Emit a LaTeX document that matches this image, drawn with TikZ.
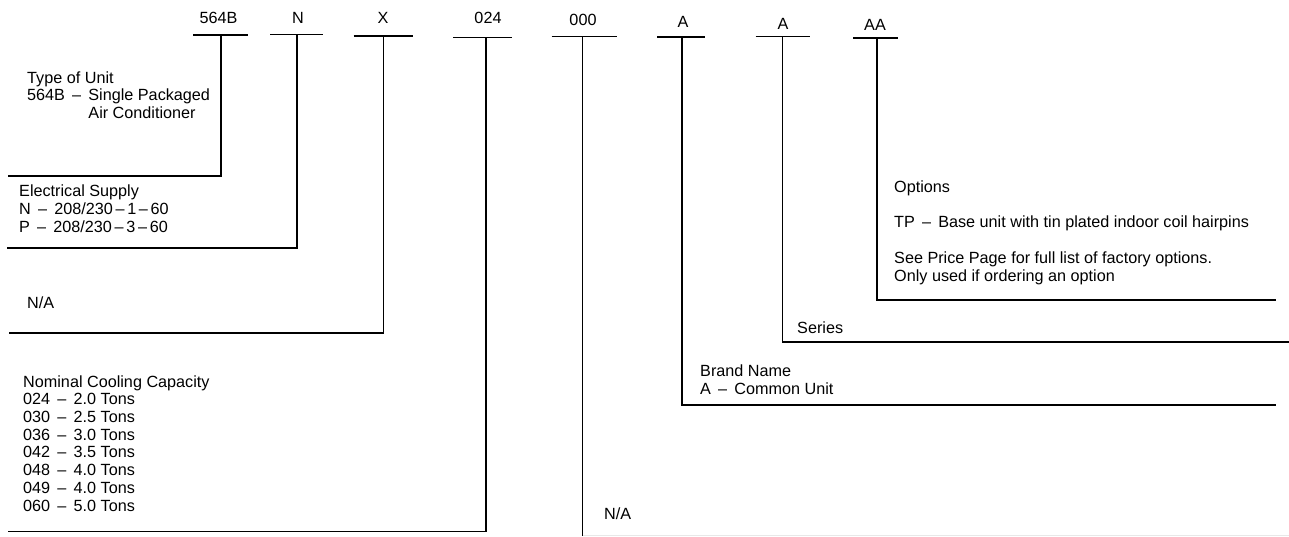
\documentclass[tikz,border=0pt]{standalone}
\usepackage{fontspec}
\setmainfont{Liberation Sans}
\usetikzlibrary{calc}
\definecolor{faintGray}{RGB}{232,232,232}

\begin{document}
\begin{tikzpicture}[
  x=1pt, y=-1pt,
  font=\fontsize{16.2}{17.7}\selectfont,
  code/.style={anchor=base, inner sep=0pt},
  desc/.style={anchor=base west, align=left, inner sep=0pt},
  bar/.style={line width=1.8pt},
  lead/.style={line width=1.8pt},
  faint/.style={draw=faintGray, line width=1pt},
]
\useasboundingbox (0,0) rectangle (1289,536);

% ---------- code letters ----------
\node[code] (kUnit)   at (218.5,23) {564B};
\node[code] (kVolt)   at (298,23)   {N};
\node[code] (kSpare)  at (383,23)   {X};
\node[code] (kCap)    at (488,23)   {024};
\node[code] (kZero)   at (583,25)   {000};
\node[code] (kBrand)  at (683,27)   {A};
\node[code] (kSeries) at (783,29)   {A};
\node[code] (kOpt)    at (875,30)   {AA};

% ---------- bar tops ----------
\coordinate (tUnit)   at (221,35);
\coordinate (tVolt)   at (297,34.5);
\coordinate (tSpare)  at (383.5,36);
\coordinate (tCap)    at (486,37.5);
\coordinate (tZero)   at (582.5,36.5);
\coordinate (tBrand)  at (682,37);
\coordinate (tSeries) at (782.5,36.5);
\coordinate (tOpt)    at (877,38);

\draw[bar] ($(tUnit)+(-28,0)$)   -- ($(tUnit)+(27,0)$);
\draw[bar] ($(tVolt)+(-27,0)$)   -- ($(tVolt)+(26,0)$);
\draw[bar] ($(tSpare)+(-30,0)$)  -- ($(tSpare)+(29,0)$);
\draw[bar] ($(tCap)+(-33,0)$)    -- ($(tCap)+(26,0)$);
\draw[bar] ($(tZero)+(-31,0)$)   -- ($(tZero)+(34,0)$);
\draw[bar] ($(tBrand)+(-25,0)$)  -- ($(tBrand)+(23,0)$);
\draw[bar] ($(tSeries)+(-27,0)$) -- ($(tSeries)+(27,0)$);
\draw[bar] ($(tOpt)+(-24,0)$)    -- ($(tOpt)+(21,0)$);

% ---------- leader ends ----------
\coordinate (eUnit)   at (8,176);
\coordinate (eVolt)   at (7,248);
\coordinate (eSpare)  at (9,333);
\coordinate (eCap)    at (8,531.5);
\coordinate (eZero)   at (1289,535);
\coordinate (eBrand)  at (1276,405);
\coordinate (eSeries) at (1289,342);
\coordinate (eOpt)    at (1276,300);

\draw[lead] (tUnit)   |- (eUnit);
\draw[lead] (tVolt)   |- (eVolt);
\draw[lead] (tSpare)  |- (eSpare);
\draw[lead] (tCap)    |- (eCap);
\draw[faint] (tZero |- eZero) -- (eZero);
\draw[lead] (tZero)   -- (tZero |- 0,536);
\draw[lead] (tBrand)  |- (eBrand);
\draw[lead] (tSeries) |- (eSeries);
\draw[lead] (tOpt)    |- (eOpt);

% ---------- descriptions (placed at last baseline) ----------
\node[desc] (dUnit) at (27,118.5)
  {Type of Unit\\564B \,–\, Single Packaged\\\phantom{564B \,–\, }Air Conditioner};
\node[desc] (dVolt) at (19,232)
  {Electrical Supply\\N \,–\, 208/230\,–\,1\,–\,60\\P \,–\, 208/230\,–\,3\,–\,60};
\node[desc] (dSpare) at (27,308) {N/A};
\node[desc] (dCap) at (23,511)
  {Nominal Cooling Capacity\\024 \,–\, 2.0 Tons\\030 \,–\, 2.5 Tons\\036 \,–\, 3.0 Tons\\
   042 \,–\, 3.5 Tons\\048 \,–\, 4.0 Tons\\049 \,–\, 4.0 Tons\\060 \,–\, 5.0 Tons};
\node[desc] (dZero) at (604,519) {N/A};
\node[desc] (dBrand) at (700,394) {Brand Name\\A \,–\, Common Unit};
\node[desc] (dSeries) at (797,333) {Series};
\node[desc] (dOpt) at (894,281)
  {Options\\[17.7pt]TP \,–\, Base unit with tin plated indoor coil hairpins\\[17.7pt]
   See Price Page for full list of factory options.\\Only used if ordering an option};

\end{tikzpicture}
\end{document}
